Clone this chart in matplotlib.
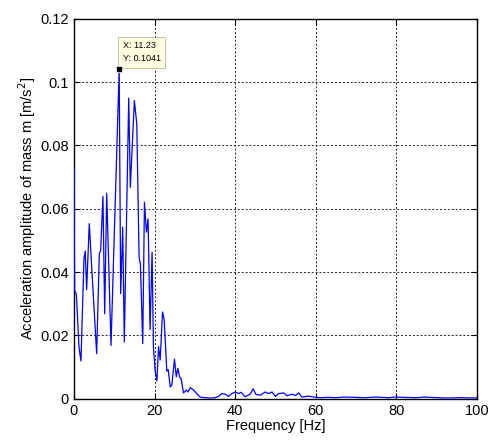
import matplotlib
matplotlib.use('Agg')
import matplotlib.pyplot as plt

plt.rcParams['font.family'] = ['Liberation Sans', 'DejaVu Sans']

# spectrum
freq = [0, 0.17, 0.6, 1.25, 1.74, 2.49, 2.8, 3.15, 3.8, 4.7, 5.64, 6.3, 6.63,
        7.2, 7.63, 8.13, 9.2, 11.23, 11.6, 12.1, 12.5, 13.6, 14.0, 15.0, 15.6,
        16.17, 16.5, 17.08, 17.5, 18.0, 18.4, 18.9, 19.4, 19.73, 19.9, 20.2,
        20.6, 21.0, 21.4, 22.0, 22.4, 23.05, 23.4, 23.9, 24.3, 24.96, 25.4,
        25.8, 26.2, 26.6, 27.2, 27.9, 28.3, 28.9, 29.7, 30.5, 31.3, 32.5, 34.0,
        35.0, 35.9, 36.7, 37.6, 38.4, 39.2, 40.05, 40.9, 41.5, 42.5, 43.8,
        44.5, 45.2, 46.3, 47.5, 48.3, 49.2, 50.0, 50.8, 52.1, 52.9, 54.1, 55.0,
        55.8, 56.6, 58.3, 59.5, 61.2, 63, 65, 67, 70, 72, 75, 78, 80, 82, 85,
        87, 90, 93, 96, 100]
amp = [0.0726, 0.0342, 0.033, 0.0163, 0.0119, 0.0442, 0.0466, 0.0344, 0.0553,
       0.035, 0.0142, 0.0458, 0.0468, 0.0639, 0.0268, 0.0649, 0.0168, 0.1041,
       0.0332, 0.0542, 0.0179, 0.095, 0.0668, 0.0942, 0.0868, 0.0447, 0.0426,
       0.0174, 0.0621, 0.0526, 0.0568, 0.0218, 0.0463, 0.0163, 0.0132, 0.0084,
       0.0056, 0.0165, 0.0122, 0.0274, 0.025, 0.0087, 0.0092, 0.0037, 0.0043,
       0.0125, 0.0069, 0.0096, 0.0069, 0.0064, 0.0018, 0.0027, 0.0021, 0.0035,
       0.0027, 0.0016, 0.0005, 0.0003, 0.0002, 0.0003, 0.0007, 0.0016, 0.0014,
       0.0007, 0.0016, 0.0021, 0.0016, 0.002, 0.0006, 0.0015, 0.0031, 0.0013,
       0.0011, 0.0021, 0.0016, 0.0021, 0.0007, 0.0016, 0.0018, 0.0009, 0.0014,
       0.001, 0.0018, 0.0005, 0.0008, 0.0005, 0.0003, 0.0004, 0.0003, 0.0005,
       0.0004, 0.0003, 0.0005, 0.0003, 0.0005, 0.0004, 0.0003, 0.0005, 0.0003,
       0.0002, 0.0003, 0.0002]

peak_f = 11.23
peak_a = 0.1041

xticks = [0, 20, 40, 60, 80, 100]
yticks = [0, 0.02, 0.04, 0.06, 0.08, 0.1, 0.12]
ylabels = ['0', '0.02', '0.04', '0.06', '0.08', '0.1', '0.12']

fig = plt.figure(figsize=(4.93, 4.40), dpi=100)
ax = fig.add_axes([0.150, 0.094, 0.817, 0.863])

ax.plot(freq, amp, color='#0000ff', lw=0.9, zorder=3)
ax.plot([peak_f], [peak_a], marker='s', ms=5, mfc='black', mec='#e0e0e0', mew=0.6, zorder=4)
ax.text(peak_f + 0.9, peak_a + 0.0019, 'X: %.2f\nY: %.4f' % (peak_f, peak_a),
        fontsize=6.5, ha='left', va='bottom', linespacing=1.6,
        bbox=dict(boxstyle='square,pad=0.5', fc='#ffffe1', ec='#b8b8a0', lw=0.6))

ax.set_xlim(0, 100)
ax.set_ylim(0, 0.12)
ax.set_xticks(xticks)
ax.set_yticks(yticks)
ax.set_yticklabels(ylabels)
ax.tick_params(direction='in', top=True, right=True, labelsize=10.5, length=4, width=0.8)
ax.grid(True, color='#202020', linestyle=(0, (2, 2)), lw=0.7)
for s in ax.spines.values():
    s.set_linewidth(1.0)

ax.set_xlabel('Frequency [Hz]', fontsize=10.5, labelpad=1)
ax.set_ylabel('Acceleration amplitude of mass m [m/s$^2$]', fontsize=10.5, labelpad=2)

fig.savefig('out.png', dpi=100)
